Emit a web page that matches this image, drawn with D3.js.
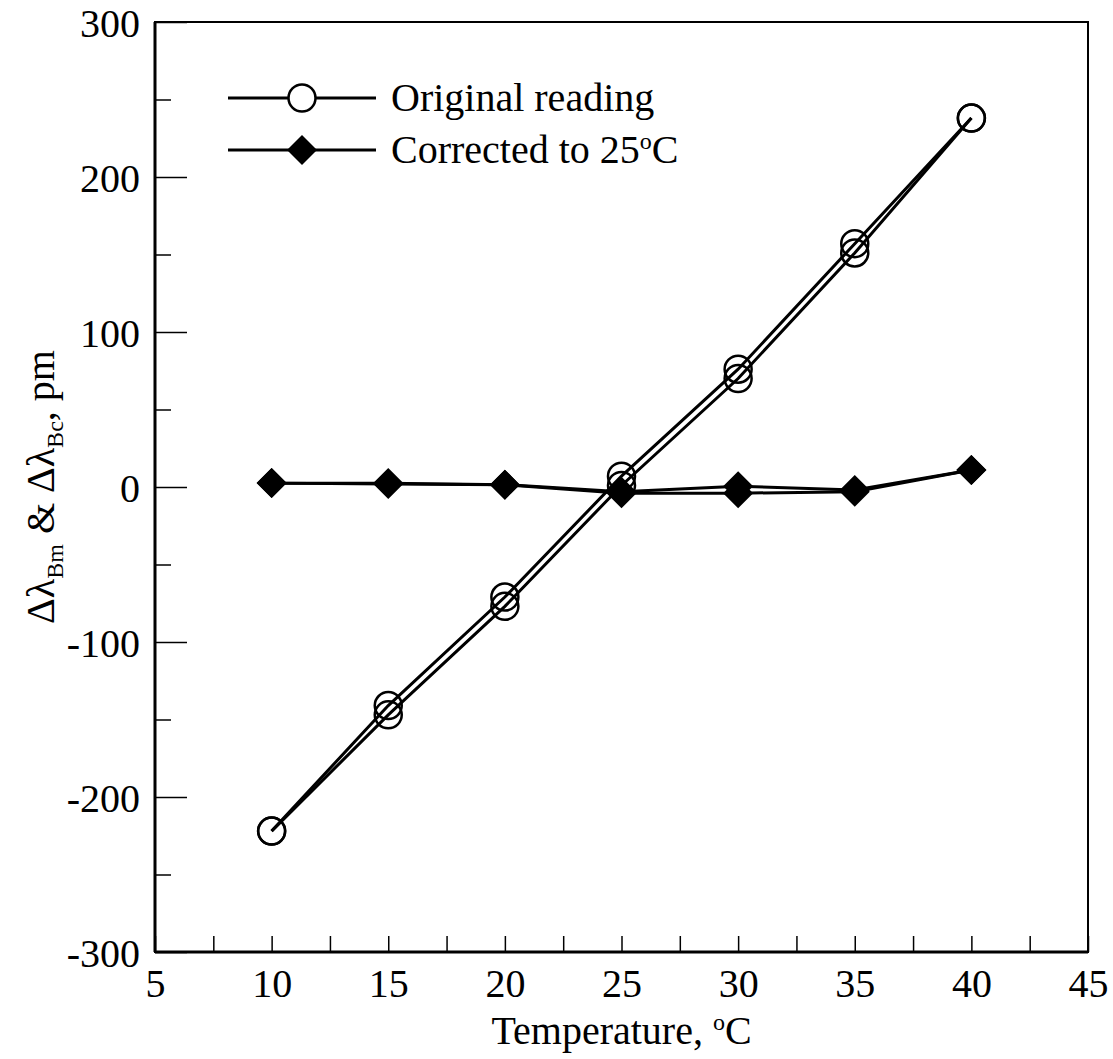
<!DOCTYPE html>
<html>
<head>
<meta charset="utf-8">
<script src="https://cdn.jsdelivr.net/npm/d3@7"></script>
<style>
body { margin: 0; background: #fff; }
text { font-family: "Liberation Serif", "Times New Roman", serif; fill: #000; }
</style>
</head>
<body>
<div id="chart-area"></div>
<script>
// data
var temps = [10, 15, 20, 25, 30, 35, 40];
var originalA = [-222, -141, -71, 7, 76, 157, 238];
var originalB = [-222, -147, -77, 1, 70, 151, 238];
var correctedA = [2.5, 2.5, 1.5, -3, 0.5, -2, 11];
var correctedB = [2.5, 2, 1.5, -4, -4, -3, 11];
var xTicks = [5, 10, 15, 20, 25, 30, 35, 40, 45];
var yTicks = [-300, -200, -100, 0, 100, 200, 300];

var margin = {top: 22, right: 25, bottom: 107, left: 155};
var W = 1113, H = 1059;
var width = W - margin.left - margin.right;
var height = H - margin.top - margin.bottom;
var fs = 40;

var svg = d3.select("#chart-area").append("svg")
	.attr("width", W).attr("height", H);
var g = svg.append("g")
	.attr("transform", "translate(" + margin.left + "," + margin.top + ")");

var x = d3.scaleLinear().domain([5, 45]).range([0, width]);
var y = d3.scaleLinear().domain([-300, 300]).range([height, 0]);

// frame
g.append("rect").attr("width", width).attr("height", height)
	.attr("fill", "none").attr("stroke", "#000").attr("stroke-width", 2);

// minor ticks
var yMinor = d3.range(-250, 300, 100);
var xMinor = d3.range(7.5, 45, 5);

g.append("g").call(d3.axisLeft(y).tickValues(yTicks).tickSize(-32).tickPadding(15).tickFormat(d => String(d)))
	.call(a => a.select(".domain").remove())
	.call(a => a.selectAll("line").attr("stroke-width", 1.5))
	.call(a => a.selectAll("text").attr("font-size", fs).attr("dy", "0.35em"));
g.append("g").call(d3.axisLeft(y).tickValues(yMinor).tickSize(-16).tickFormat(""))
	.call(a => a.select(".domain").remove())
	.call(a => a.selectAll("line").attr("stroke-width", 1.5));

g.append("g").attr("transform", "translate(0," + height + ")")
	.call(d3.axisBottom(x).tickValues(xTicks).tickSize(-16).tickPadding(17))
	.call(a => a.select(".domain").remove())
	.call(a => a.selectAll("line").attr("stroke-width", 1.5))
	.call(a => a.selectAll("text").attr("font-size", fs));
g.append("g").attr("transform", "translate(0," + height + ")")
	.call(d3.axisBottom(x).tickValues(xMinor).tickSize(-16).tickFormat(""))
	.call(a => a.select(".domain").remove())
	.call(a => a.selectAll("line").attr("stroke-width", 1.5));

// thicker left and bottom spines
g.append("line").attr("x1", 0).attr("x2", 0).attr("y1", 0).attr("y2", height)
	.attr("stroke", "#000").attr("stroke-width", 3);
g.append("line").attr("x1", 0).attr("x2", width).attr("y1", height).attr("y2", height)
	.attr("stroke", "#000").attr("stroke-width", 3);

var line = d3.line().x(d => x(d[0])).y(d => y(d[1]));
var diamond = d3.symbol().type(d3.symbolSquare).size(450);

function series(vals, kind) {
	var pts = temps.map((t, i) => [t, vals[i]]);
	g.append("path").datum(pts).attr("d", line)
		.attr("fill", "none").attr("stroke", "#000").attr("stroke-width", 3);
	if (kind === "circle") {
		g.selectAll(null).data(pts).enter().append("circle")
			.attr("cx", d => x(d[0])).attr("cy", d => y(d[1])).attr("r", 13.5)
			.attr("fill", "none").attr("stroke", "#000").attr("stroke-width", 2.5);
	} else {
		g.selectAll(null).data(pts).enter().append("path")
			.attr("d", diamond)
			.attr("transform", d => "translate(" + x(d[0]) + "," + y(d[1]) + ") rotate(45)")
			.attr("fill", "#000");
	}
}
series(originalA, "circle");
series(originalB, "circle");
series(correctedA, "diamond");
series(correctedB, "diamond");

// legend
var leg = svg.append("g");
[["Original reading", "circle", 98], ["Corrected to 25", "diamond", 150]].forEach(function (r) {
	leg.append("line").attr("x1", 228).attr("x2", 376).attr("y1", r[2]).attr("y2", r[2])
		.attr("stroke", "#000").attr("stroke-width", 3);
	if (r[1] === "circle") {
		leg.append("circle").attr("cx", 302).attr("cy", r[2]).attr("r", 13.5)
			.attr("fill", "#fff").attr("stroke", "#000").attr("stroke-width", 2.5);
	} else {
		leg.append("path").attr("d", diamond)
			.attr("transform", "translate(302," + r[2] + ") rotate(45)").attr("fill", "#000");
	}
	var t = leg.append("text").attr("x", 391).attr("y", r[2] + 13).attr("font-size", fs).text(r[0]);
	if (r[1] === "diamond") {
		t.append("tspan").attr("font-size", 24).attr("dy", -14).text("o");
		t.append("tspan").attr("dy", 14).text("C");
	}
});

// axis titles
var xl = svg.append("text").attr("x", margin.left + width / 2).attr("y", 1044)
	.attr("text-anchor", "middle").attr("font-size", fs).text("Temperature, ");
xl.append("tspan").attr("font-size", 24).attr("dy", -14).text("o");
xl.append("tspan").attr("dy", 14).text("C");

var yl = svg.append("text").attr("transform", "translate(54," + (margin.top + height / 2) + ") rotate(-90)")
	.attr("text-anchor", "middle").attr("font-size", fs);
yl.append("tspan").text("\u0394\u03bb");
yl.append("tspan").attr("font-size", 24).attr("dy", 9).text("Bm");
yl.append("tspan").attr("dy", -9).text(" & \u0394\u03bb");
yl.append("tspan").attr("font-size", 24).attr("dy", 9).text("Bc");
yl.append("tspan").attr("dy", -9).text(", pm");
</script>
</body>
</html>
